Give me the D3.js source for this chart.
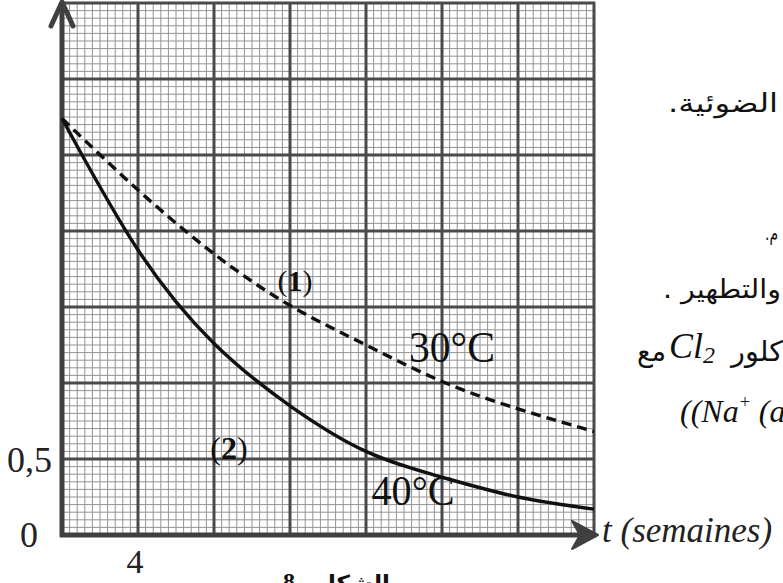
<!DOCTYPE html>
<html>
<head>
<meta charset="utf-8">
<script src="https://cdn.jsdelivr.net/npm/d3@7"></script>
<style>
  html, body { margin: 0; padding: 0; background: #fff; }
  svg { display: block; }
</style>
</head>
<body>
<svg id="chart" width="783" height="583"></svg>
<script>
// ---- data ----
const weeks   = [0, 4, 8, 12, 16, 20, 24, 28];           // t (semaines)
const conc30  = [2.74, 2.27, 1.85, 1.51, 1.25, 1.01, 0.83, 0.68]; // curve (1), 30°C, dashed
const conc40  = [2.74, 1.875, 1.26, 0.85, 0.55, 0.38, 0.25, 0.17]; // curve (2), 40°C, solid
const xTickLabels = [{v: 4, t: "4"}];
const yTickLabels = [{v: 0.5, t: "0,5"}];
const xDomain = [0, 28];
const yDomain = [0, 3.5];
const xMajorStep = 4, xMinorStep = 0.4;
const yMajorStep = 0.5, yMinorStep = 0.05;

// ---- layout ----
const svg = d3.select("#chart");
const x = d3.scaleLinear().domain(xDomain).range([62, 594]);
const y = d3.scaleLinear().domain(yDomain).range([535, 3]);

const serif = "'Liberation Serif', 'Times New Roman', serif";
const arabic = "'DejaVu Sans', sans-serif";

// minor grid
const xMinor = d3.range(xDomain[0], xDomain[1] + 1e-9, xMinorStep);
const yMinor = d3.range(yDomain[0], yDomain[1] + 1e-9, yMinorStep);
const gMinor = svg.append("g").attr("stroke", "#939393").attr("stroke-width", 1);
gMinor.selectAll("line.vx").data(xMinor).join("line")
  .attr("x1", d => x(d)).attr("x2", d => x(d))
  .attr("y1", y(yDomain[0])).attr("y2", y(yDomain[1]));
gMinor.selectAll("line.hy").data(yMinor).join("line")
  .attr("y1", d => y(d)).attr("y2", d => y(d))
  .attr("x1", x(xDomain[0])).attr("x2", x(xDomain[1]));

// major grid
const xMajor = d3.range(xDomain[0] + xMajorStep, xDomain[1] + 1e-9, xMajorStep);
const yMajor = d3.range(yDomain[0] + yMajorStep, yDomain[1] + 1e-9, yMajorStep);
const gMajor = svg.append("g").attr("stroke", "#4a4a4a").attr("stroke-width", 3);
gMajor.selectAll("line.vx").data(xMajor).join("line")
  .attr("x1", d => x(d)).attr("x2", d => x(d))
  .attr("y1", y(yDomain[0])).attr("y2", y(yDomain[1]) - 1);
gMajor.selectAll("line.hy").data(yMajor).join("line")
  .attr("y1", d => y(d)).attr("y2", d => y(d))
  .attr("x1", x(xDomain[0])).attr("x2", x(xDomain[1]) + 1);

// axes (thick)
const axisColor = "#404040";
svg.append("line").attr("x1", x(0)).attr("x2", x(0))
  .attr("y1", y(0) + 2).attr("y2", 3)
  .attr("stroke", axisColor).attr("stroke-width", 5);
svg.append("line").attr("x1", x(0) - 2).attr("x2", x(xDomain[1]) + 2)
  .attr("y1", y(0)).attr("y2", y(0))
  .attr("stroke", axisColor).attr("stroke-width", 5);

// y arrow (open chevron)
svg.append("path")
  .attr("d", `M${x(0) - 11},${y(3.5) + 23} L${x(0)},${y(3.5) - 1} L${x(0) + 11},${y(3.5) + 23}`)
  .attr("fill", "none").attr("stroke", axisColor).attr("stroke-width", 5)
  .attr("stroke-linecap", "round").attr("stroke-linejoin", "round");
// x arrow (notched filled)
const xe = x(xDomain[1]);
svg.append("path")
  .attr("d", `M${xe + 4},${y(0)} L${xe - 22},${y(0) - 14} L${xe - 14},${y(0)} L${xe - 22},${y(0) + 14} Z`)
  .attr("fill", axisColor).attr("stroke", axisColor).attr("stroke-width", 2)
  .attr("stroke-linejoin", "round");

// curves
const line = d3.line().x(d => x(d[0])).y(d => y(d[1])).curve(d3.curveNatural);
svg.append("path")
  .datum(weeks.map((w, i) => [w, conc30[i]]))
  .attr("d", line).attr("fill", "none").attr("stroke", "#111")
  .attr("stroke-width", 3.4).attr("stroke-dasharray", "10,6");
svg.append("path")
  .datum(weeks.map((w, i) => [w, conc40[i]]))
  .attr("d", line).attr("fill", "none").attr("stroke", "#111")
  .attr("stroke-width", 3.4);

// tick labels
svg.selectAll("text.yt").data(yTickLabels).join("text")
  .attr("x", 7).attr("y", d => y(d.v) + 13)
  .attr("font-family", serif).attr("font-size", 36).attr("fill", "#222")
  .text(d => d.t);
svg.append("text").attr("x", 20).attr("y", y(0) + 12)
  .attr("font-family", serif).attr("font-size", 36).attr("fill", "#222").text("0");
svg.selectAll("text.xt").data(xTickLabels).join("text")
  .attr("x", d => x(d.v) - 3).attr("y", 573).attr("text-anchor", "middle")
  .attr("font-family", serif).attr("font-size", 34).attr("fill", "#222")
  .text(d => d.t);
svg.append("text").attr("x", 602).attr("y", 542)
  .attr("font-family", serif).attr("font-style", "italic").attr("font-size", 35).attr("fill", "#222")
  .text("t (semaines)");

// curve labels
const l1 = svg.append("text").attr("x", 295).attr("y", 291).attr("text-anchor", "middle")
  .attr("font-family", serif).attr("font-size", 30).attr("fill", "#111");
l1.append("tspan").text("(");
l1.append("tspan").attr("font-weight", "bold").text("1");
l1.append("tspan").text(")");
const l2 = svg.append("text").attr("x", 229).attr("y", 459).attr("text-anchor", "middle")
  .attr("font-family", serif).attr("font-size", 32).attr("fill", "#111");
l2.append("tspan").text("(");
l2.append("tspan").attr("font-weight", "bold").text("2");
l2.append("tspan").text(")");
svg.append("text").attr("x", 452).attr("y", 362).attr("text-anchor", "middle")
  .attr("font-family", serif).attr("font-size", 45).attr("fill", "#111")
  .attr("textLength", 86).attr("lengthAdjust", "spacingAndGlyphs").text("30°C");
svg.append("text").attr("x", 413).attr("y", 505).attr("text-anchor", "middle")
  .attr("font-family", serif).attr("font-size", 43).attr("fill", "#111")
  .attr("textLength", 83).attr("lengthAdjust", "spacingAndGlyphs").text("40°C");

// fragments of surrounding Arabic text (cropped page)
function arText(str, xEnd, yBase, size, len, bold) {
  return svg.append("text").attr("x", xEnd).attr("y", yBase).attr("text-anchor", "end")
    .attr("font-family", arabic).attr("font-size", size).attr("fill", "#111")
    .attr("font-weight", bold ? "bold" : "normal")
    .attr("textLength", len).attr("lengthAdjust", "spacingAndGlyphs").text(str);
}
arText(".الضوئية", 778, 112, 26, 110);
arText(".م", 778, 240, 20, 13);
arText(". والتطهير", 781, 298, 26, 118);
arText("مع", 666, 361, 28, 29);
const cl = svg.append("text").attr("x", 669).attr("y", 358)
  .attr("font-family", serif).attr("font-style", "italic").attr("font-size", 36).attr("fill", "#111");
cl.append("tspan").text("Cl");
cl.append("tspan").attr("font-size", 24).attr("dy", 5).text("2");
arText("كلور", 783, 361, 28, 52);
const na = svg.append("text").attr("x", 680).attr("y", 422)
  .attr("font-family", serif).attr("font-style", "italic").attr("font-size", 32).attr("fill", "#111");
na.append("tspan").text("((Na");
na.append("tspan").attr("font-size", 18).attr("dy", -14).text("+");
na.append("tspan").attr("dy", 14).text(" (a");

// figure caption (cut off at bottom)
svg.append("text").attr("x", 283).attr("y", 589)
  .attr("font-family", serif).attr("font-weight", "bold").attr("font-size", 24).attr("fill", "#111").text("8");
arText("الشكل ـ", 390, 591, 22, 90, true);
</script>
</body>
</html>
